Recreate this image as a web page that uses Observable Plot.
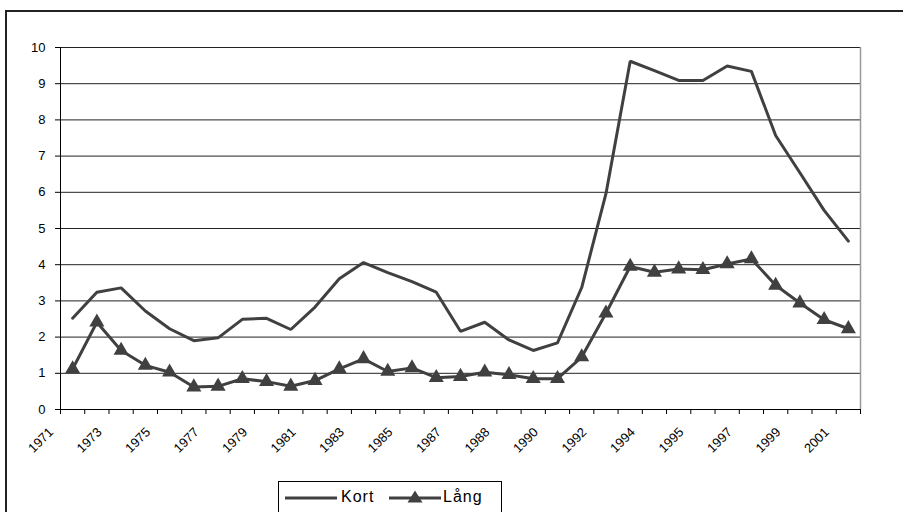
<!DOCTYPE html>
<html>
<head>
<meta charset="utf-8">
<script src="https://cdn.jsdelivr.net/npm/d3@7"></script>
<script src="https://cdn.jsdelivr.net/npm/@observablehq/plot@0.6"></script>
<style>
  html, body { margin: 0; padding: 0; background: #fff; }
  body { width: 903px; height: 512px; overflow: hidden; position: relative; font-family: "Liberation Sans", Arial, sans-serif; }
  #frame { position: absolute; left: 5px; top: 10px; width: 1000px; height: 600px; border-left: 2px solid #222; border-top: 2px solid #222; box-sizing: border-box; }
  #chart { position: absolute; left: 0; top: 0; }
  #legend { position: absolute; left: 278px; top: 481px; width: 224px; height: 40px; border: 1px solid #000; box-sizing: border-box; background: #fff; font-size: 16px; letter-spacing: 1px; color: #000; }
  #legend .item { position: absolute; top: 5px; display: flex; align-items: center; }
</style>
</head>
<body>
<div id="frame"></div>
<div id="chart"></div>
<div id="legend"></div>
<script>
// Category labels (one per observation); only every second label is shown
const years = ["1971","1972","1973","1974","1975","1976","1977","1978","1979","1980",
  "1981","1982","1983","1984","1985","1986","1987","1988","1988","1989",
  "1990","1991","1992","1993","1994","1995","1995","1996","1997","1998",
  "1999","2000","2001"];
const kort = [2.52,3.24,3.36,2.72,2.23,1.90,1.98,2.49,2.52,2.21,
  2.83,3.61,4.06,3.78,3.53,3.24,2.16,2.41,1.92,1.63,
  1.84,3.37,5.96,9.62,9.36,9.09,9.09,9.49,9.34,7.57,
  6.54,5.50,4.65];
const lang = [1.12,2.41,1.63,1.22,1.03,0.62,0.64,0.85,0.77,0.64,
  0.80,1.12,1.40,1.05,1.15,0.88,0.91,1.03,0.96,0.85,
  0.85,1.45,2.66,3.95,3.79,3.88,3.86,4.02,4.16,3.43,
  2.94,2.48,2.23];
const yTicks = [0,1,2,3,4,5,6,7,8,9,10];
const seriesNames = ["Kort", "Lång"];

const kortData = kort.map((v, i) => ({i, v}));
const langData = lang.map((v, i) => ({i, v}));
const n = years.length;
const bounds = d3.range(n + 1).map(k => k - 0.5);
const labelIdx = d3.range(0, n, 2);
const ink = "#404040";

const chart = Plot.plot({
  width: 903,
  height: 512,
  marginLeft: 60,
  marginRight: 43,
  marginTop: 47,
  marginBottom: 103,
  style: {fontFamily: "'Liberation Sans', Arial, sans-serif", background: "transparent"},
  x: {type: "linear", domain: [-0.5, n - 0.5], axis: null},
  y: {domain: [0, 10], axis: null},
  marks: [
    Plot.ruleY(yTicks.filter(d => d > 0), {stroke: "#222", strokeWidth: 1}),
    Plot.ruleX([n - 0.5], {stroke: "#999", strokeWidth: 1.5}),
    Plot.ruleX([-0.5], {stroke: "#000", strokeWidth: 1}),
    Plot.ruleY([0], {stroke: "#000", strokeWidth: 1}),
    Plot.axisY({ticks: yTicks, tickSize: 5, tickPadding: 10, fontSize: 13, stroke: "#000", color: "#000", label: null}),
    Plot.axisX({ticks: bounds, tickSize: 5, tickFormat: () => "", stroke: "#000", label: null}),
    Plot.axisX({ticks: labelIdx, tickSize: 0, tickPadding: 0, tickRotate: -45, tickFormat: i => years[i],
      textAnchor: "end", fontSize: 13, fill: "#000", dx: -21.5, dy: 20.5, label: null}),
    Plot.line(kortData, {x: "i", y: "v", stroke: ink, strokeWidth: 3, strokeLinejoin: "miter"}),
    Plot.line(langData, {x: "i", y: "v", stroke: ink, strokeWidth: 3, strokeLinejoin: "miter"}),
    Plot.dot(langData, {x: "i", y: "v", symbol: "triangle", r: 5.6, fill: ink, stroke: "none"})
  ]
});
document.getElementById("chart").appendChild(chart);

// Legend
const legend = document.getElementById("legend");
legend.innerHTML = `
  <div class="item" style="left:6px">
    <svg width="54" height="20"><line x1="0" x2="52" y1="11" y2="11" stroke="${ink}" stroke-width="3"/></svg>
    <span style="margin-left:2px">${seriesNames[0]}</span>
  </div>
  <div class="item" style="left:110px">
    <svg width="53" height="20"><line x1="0" x2="52" y1="11" y2="11" stroke="${ink}" stroke-width="3"/>
      <path d="M26,3.5 L33.5,15.5 L18.5,15.5 Z" fill="${ink}"/></svg>
    <span style="margin-left:1px">${seriesNames[1]}</span>
  </div>`;
</script>
</body>
</html>
